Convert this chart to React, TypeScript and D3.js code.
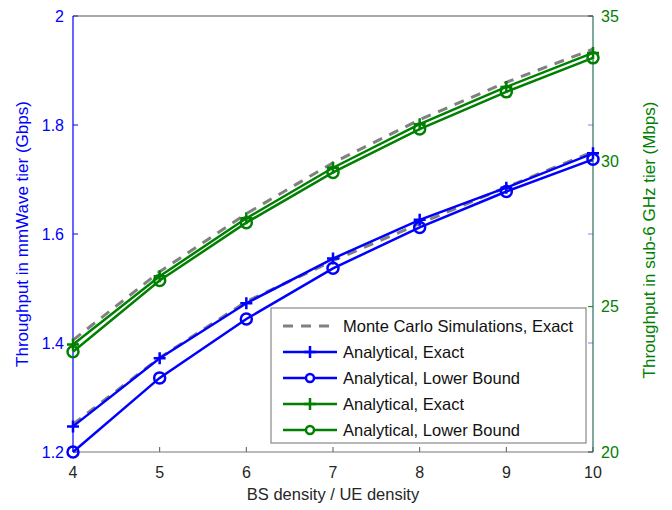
import React from "react";
import * as d3 from "d3";

// BS-to-UE density ratio
const densities = [4, 5, 6, 7, 8, 9, 10];

// mmWave tier throughput (Gbps)
const mmMonteCarlo = [1.251, 1.373, 1.476, 1.551, 1.619, 1.686, 1.751];
const mmExact = [1.247, 1.372, 1.473, 1.555, 1.626, 1.685, 1.748];
const mmLowerBound = [1.2, 1.336, 1.444, 1.537, 1.612, 1.678, 1.737];

// sub-6 GHz tier throughput (Mbps)
const subMonteCarlo = [23.85, 26.2, 28.2, 29.95, 31.43, 32.72, 33.86];
const subExact = [23.7, 26.05, 28.04, 29.78, 31.28, 32.56, 33.73];
const subLowerBound = [23.45, 25.9, 27.89, 29.62, 31.11, 32.39, 33.56];

const xTicks = [4, 5, 6, 7, 8, 9, 10];
const leftTicks = [1.2, 1.4, 1.6, 1.8, 2];
const rightTicks = [20, 25, 30, 35];

const legendLabels = [
  "Monte Carlo Simulations, Exact",
  "Analytical, Exact",
  "Analytical, Lower Bound",
  "Analytical, Exact",
  "Analytical, Lower Bound",
];

const W = 672;
const H = 510;
const M = { left: 73, right: 593, top: 16, bottom: 452 };
const BLUE = "#0000ff";
const GREEN = "#008000";
const GRAY = "#808080";
const FONT = "'Liberation Sans', Arial, Helvetica, sans-serif";

export default function App() {
  const x = d3.scaleLinear().domain([4, 10]).range([M.left, M.right]);
  const yL = d3.scaleLinear().domain([1.2, 2]).range([M.bottom, M.top]);
  const yR = d3.scaleLinear().domain([20, 35]).range([M.bottom, M.top]);

  const lineL = d3
    .line<number>()
    .x((_, i) => x(densities[i]))
    .y((d) => yL(d));
  const lineR = d3
    .line<number>()
    .x((_, i) => x(densities[i]))
    .y((d) => yR(d));

  const plus = (cx: number, cy: number, color: string, key: string) => (
    <path
      key={key}
      d={`M${cx - 6},${cy}H${cx + 6}M${cx},${cy - 6}V${cy + 6}`}
      stroke={color}
      strokeWidth={2.5}
      fill="none"
    />
  );
  const circ = (cx: number, cy: number, color: string, key: string) => (
    <circle key={key} cx={cx} cy={cy} r={5.5} stroke={color} strokeWidth={2.5} fill="none" />
  );

  const legX = 271;
  const legY = 308;
  const legW = 315;
  const legH = 135;
  const rowY = (i: number) => legY + 18 + i * 26;

  return (
    <svg width={W} height={H} style={{ position: "absolute", left: 0, top: 0, background: "#fff" }}>
      <rect x={0} y={0} width={W} height={H} fill="#fff" />

      {/* x ticks */}
      {xTicks.map((t) => (
        <g key={`xt${t}`}>
          <line x1={x(t)} x2={x(t)} y1={M.bottom} y2={M.bottom - 5} stroke="#555" strokeWidth={1} />
          <text x={x(t)} y={M.bottom + 26} fontSize={16} fontFamily={FONT} fill="#262626" textAnchor="middle">
            {t}
          </text>
        </g>
      ))}

      {/* left-axis ticks */}
      {leftTicks.map((t) => (
        <g key={`lt${t}`}>
          <line x1={M.left} x2={M.left + 5} y1={yL(t)} y2={yL(t)} stroke={BLUE} strokeWidth={1} />
          <line x1={M.right} x2={M.right - 5} y1={yL(t)} y2={yL(t)} stroke={BLUE} strokeOpacity={0.5} strokeWidth={1} />
          <text x={M.left - 9} y={yL(t) + 5.5} fontSize={16} fontFamily={FONT} fill={BLUE} textAnchor="end">
            {t === 2 ? "2" : t.toFixed(1)}
          </text>
        </g>
      ))}

      {/* right-axis ticks */}
      {rightTicks.map((t) => (
        <g key={`rt${t}`}>
          <line x1={M.right} x2={M.right - 5} y1={yR(t)} y2={yR(t)} stroke={GREEN} strokeWidth={1} />
          <text x={M.right + 8} y={yR(t) + 5.5} fontSize={16} fontFamily={FONT} fill={GREEN} textAnchor="start">
            {t}
          </text>
        </g>
      ))}

      {/* plot frame */}
      <line x1={M.left} x2={M.right} y1={M.top} y2={M.top} stroke="#555" strokeWidth={1} />
      <line x1={M.left} x2={M.right} y1={M.bottom} y2={M.bottom} stroke="#777" strokeWidth={1.2} />
      <line x1={M.left} x2={M.left} y1={M.top} y2={M.bottom} stroke={BLUE} strokeWidth={1.2} />
      <line x1={M.right} x2={M.right} y1={M.top} y2={M.bottom} stroke="#2a6e60" strokeWidth={1.2} />

      {/* sub-6 GHz tier curves */}
      <path d={lineR(subMonteCarlo) || ""} fill="none" stroke={GRAY} strokeWidth={3} strokeDasharray="10 8" />
      <path d={lineR(subExact) || ""} fill="none" stroke={GREEN} strokeWidth={2.5} />
      <path d={lineR(subLowerBound) || ""} fill="none" stroke={GREEN} strokeWidth={2.5} />
      {subExact.map((v, i) => plus(x(densities[i]), yR(v), GREEN, `sp${i}`))}
      {subLowerBound.map((v, i) => circ(x(densities[i]), yR(v), GREEN, `sc${i}`))}

      {/* mmWave tier curves */}
      <path d={lineL(mmMonteCarlo) || ""} fill="none" stroke={GRAY} strokeWidth={3} strokeDasharray="10 8" />
      <path d={lineL(mmExact) || ""} fill="none" stroke={BLUE} strokeWidth={2.5} />
      <path d={lineL(mmLowerBound) || ""} fill="none" stroke={BLUE} strokeWidth={2.5} />
      {mmExact.map((v, i) => plus(x(densities[i]), yL(v), BLUE, `mp${i}`))}
      {mmLowerBound.map((v, i) => circ(x(densities[i]), yL(v), BLUE, `mc${i}`))}

      {/* axis titles */}
      <text
        transform={`translate(${28},${(M.top + M.bottom) / 2}) rotate(-90)`}
        fontSize={17}
        fontFamily={FONT}
        fill={BLUE}
        textAnchor="middle"
      >
        Throughput in mmWave tier (Gbps)
      </text>
      <text
        transform={`translate(${655},${(M.top + M.bottom) / 2 + 6}) rotate(-90)`}
        fontSize={17}
        fontFamily={FONT}
        fill={GREEN}
        textAnchor="middle"
      >
        Throughput in sub-6 GHz tier (Mbps)
      </text>
      <text x={(M.left + M.right) / 2} y={500} fontSize={16.5} fontFamily={FONT} fill="#262626" textAnchor="middle">
        BS density / UE density
      </text>

      {/* legend */}
      <rect x={legX} y={legY} width={legW} height={legH} fill="#fff" stroke="#888" strokeWidth={1.2} />
      {legendLabels.map((label, i) => {
        const cy = rowY(i);
        const color = i === 0 ? GRAY : i <= 2 ? BLUE : GREEN;
        const x1 = legX + 12;
        const x2 = legX + 66;
        const mid = (x1 + x2) / 2;
        return (
          <g key={`lg${i}`}>
            <line
              x1={x1}
              x2={x2}
              y1={cy}
              y2={cy}
              stroke={color}
              strokeWidth={i === 0 ? 3 : 2.5}
              strokeDasharray={i === 0 ? "10 8" : undefined}
            />
            {i === 1 || i === 3 ? plus(mid, cy, color, `lp${i}`) : null}
            {i === 2 || i === 4 ? (
              <circle cx={mid} cy={cy} r={4} stroke={color} strokeWidth={2.5} fill="#fff" />
            ) : null}
            <text x={legX + 72} y={cy + 5.5} fontSize={16.5} fontFamily={FONT} fill="#111">
              {label}
            </text>
          </g>
        );
      })}
    </svg>
  );
}
